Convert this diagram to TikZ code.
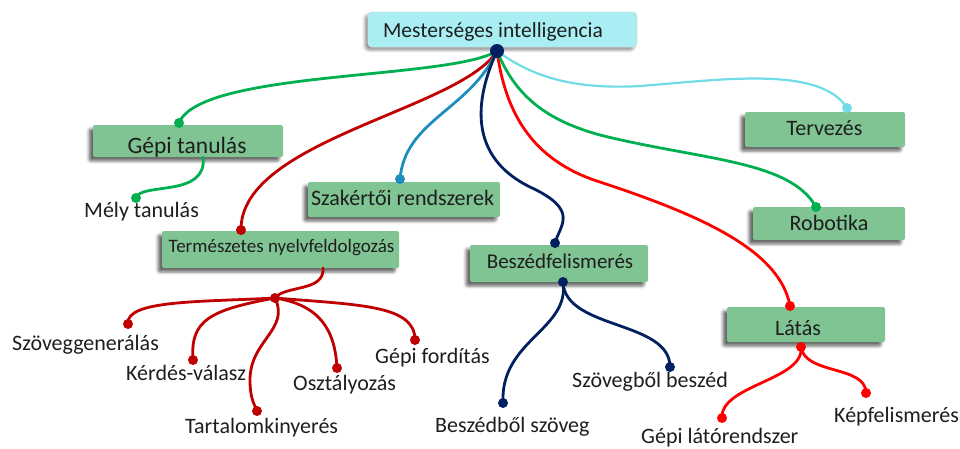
\documentclass[tikz,border=0pt]{standalone}
\usepackage{fontspec}
\setmainfont{Carlito}
\usetikzlibrary{shadows.blur}

\definecolor{boxgreen}{RGB}{127,196,146}
\definecolor{rootcyan}{RGB}{168,238,242}
\definecolor{txt}{RGB}{30,30,30}
\definecolor{lgreen}{RGB}{0,176,80}
\definecolor{nlpred}{RGB}{192,0,0}
\definecolor{visred}{RGB}{255,0,0}
\definecolor{navy}{RGB}{0,32,96}
\definecolor{lblue}{RGB}{31,140,190}
\definecolor{lcyan}{RGB}{112,220,232}

\newcommand\fsz[1]{\fontsize{#1}{#1}\selectfont}

\tikzset{
  topicbox/.style={fill=boxgreen, draw=none, rounded corners=2pt, inner sep=0,
    blur shadow={shadow xshift=-4pt, shadow yshift=-4pt, shadow blur radius=3pt, shadow opacity=60}},
  rootbox/.style={fill=rootcyan, draw=rootcyan!80!black!40, line width=0.8pt, rounded corners=4pt, inner sep=0,
    blur shadow={shadow xshift=-3pt, shadow yshift=-3pt, shadow blur radius=3pt, shadow opacity=45}},
  boxtext/.style={anchor=base, inner sep=0, text=txt, font=\fsz{22}},
  leaftext/.style={anchor=base west, inner sep=0, text=txt, font=\fsz{22}},
  dot/.style={circle, inner sep=0, minimum size=10pt},
  conn/.style={line width=2.8pt, line cap=round},
}

\begin{document}
\begin{tikzpicture}[x=1pt, y=-1pt]
\useasboundingbox (0,0) rectangle (960,448);

% ---- boxes ----
\node[rootbox, minimum width=269pt, minimum height=35pt] (root) at (502.5,29.5) {};
\node[boxtext, font=\fsz{21.5}] (roottext) at (493,37) {Mesterséges intelligencia};

\node[topicbox, minimum width=190pt, minimum height=32pt] (gt) at (188,141) {};
\node[boxtext, font=\fsz{23.5}] (gttext) at (187,153) {Gépi tanulás};

\node[topicbox, minimum width=192pt, minimum height=35pt] (szak) at (404,199.5) {};
\node[boxtext] (szaktext) at (402.5,205) {Szakértői rendszerek};

\node[topicbox, minimum width=237pt, minimum height=37pt] (nlp) at (280.5,249.5) {};
\node[boxtext, font=\fsz{19}] (nlptext) at (281.5,252) {Természetes nyelvfeldolgozás};

\node[topicbox, minimum width=178pt, minimum height=37pt] (besz) at (559,263.5) {};
\node[boxtext, font=\fsz{21}] (besztext) at (560,268) {Beszédfelismerés};

\node[topicbox, minimum width=160pt, minimum height=35pt] (terv) at (825,129.5) {};
\node[boxtext] (tervtext) at (824.5,135) {Tervezés};

\node[topicbox, minimum width=152pt, minimum height=33pt] (robo) at (829,223.5) {};
\node[boxtext] (robotext) at (829,230) {Robotika};

\node[topicbox, minimum width=158pt, minimum height=35pt] (latas) at (806,324.5) {};
\node[boxtext] (latastext) at (798,335) {Látás};

% ---- leaf labels ----
\node[leaftext] (mely) at (84,217) {Mély tanulás};
\node[leaftext] (gen) at (12,350) {Szöveggenerálás};
\node[leaftext] (qa) at (126,380) {Kérdés-válasz};
\node[leaftext] (ext) at (185,433) {Tartalomkinyerés};
\node[leaftext] (cls) at (293,390) {Osztályozás};
\node[leaftext] (mt) at (375,363) {Gépi fordítás};
\node[leaftext] (s2t) at (435,432) {Beszédből szöveg};
\node[leaftext] (t2s) at (572,387) {Szövegből beszéd};
\node[leaftext] (gl) at (641,443) {Gépi látórendszer};
\node[leaftext] (kf) at (834,422) {Képfelismerés};

% ---- connector end points ----
\node[dot, minimum size=14pt] (hub) at (497,51) {};
\node[dot] (dgt) at (179,123) {};
\node[dot] (dmely) at (136,198) {};
\node[dot] (dszak) at (400,179) {};
\node[dot] (dnlp) at (241,230) {};
\node[dot] (dbesz) at (555,243) {};
\node[dot] (dbesz2) at (563,282) {};
\node[dot] (dterv) at (847,108) {};
\node[dot] (drobo) at (816,207) {};
\node[dot] (dlatas) at (790,306) {};
\node[dot] (dlatas2) at (801,347) {};
\node[dot] (dnlphub) at (275,298) {};
\node[dot] (dgen) at (128,324) {};
\node[dot] (dqa) at (193,360) {};
\node[dot] (dext) at (257,411) {};
\node[dot] (dcls) at (337,368) {};
\node[dot] (dmt) at (415,340) {};
\node[dot] (ds2t) at (503,403) {};
\node[dot] (dt2s) at (670,367) {};
\node[dot] (dgl) at (722,418) {};
\node[dot] (dkf) at (866,393) {};
\coordinate (gtout) at (203,157);
\coordinate (nlpout) at (323,268);

% ---- connectors from the central topic ----
\draw[conn, lgreen] (hub.center) .. controls (450,80) and (200,70) .. (dgt.center);
\draw[conn, nlpred] (hub.center) .. controls (460,110) and (240,140) .. (dnlp.center);
\draw[conn, lblue] (hub.center) .. controls (470,110) and (405,120) .. (dszak.center);
\draw[conn, navy] (hub.center) .. controls (470,110) and (475,160) .. (530,187)
                  .. controls (580,210) and (560,225) .. (dbesz.center);
\draw[conn, visred] (hub.center) .. controls (505,110) and (530,160) .. (600,182)
                  .. controls (700,215) and (780,250) .. (dlatas.center);
\draw[conn, lgreen] (hub.center) .. controls (515,95) and (545,120) .. (600,135)
                  .. controls (700,160) and (790,160) .. (drobo.center);
\draw[conn, lcyan, line width=2.2pt] (hub.center) .. controls (530,75) and (570,90) .. (640,86)
                  .. controls (720,80) and (820,65) .. (dterv.center);

% ---- sub-topic connectors ----
\draw[conn, lgreen] (gtout) .. controls (208,198) and (140,182) .. (dmely.center);

\draw[conn, nlpred] (nlpout) .. controls (325,292) and (285,285) .. (dnlphub.center);
\draw[conn, nlpred] (dnlphub.center) .. controls (200,302) and (125,300) .. (dgen.center);
\draw[conn, nlpred] (dnlphub.center) .. controls (210,310) and (190,320) .. (dqa.center);
\draw[conn, nlpred] (dnlphub.center) .. controls (290,330) and (250,340) .. (250,380)
                  .. controls (250,400) and (255,405) .. (dext.center);
\draw[conn, nlpred] (dnlphub.center) .. controls (320,305) and (335,330) .. (dcls.center);
\draw[conn, nlpred] (dnlphub.center) .. controls (360,305) and (415,305) .. (dmt.center);

\draw[conn, navy] (dbesz2.center) .. controls (570,330) and (500,340) .. (ds2t.center);
\draw[conn, navy] (dbesz2.center) .. controls (565,330) and (670,320) .. (dt2s.center);

\draw[conn, visred] (dlatas2.center) .. controls (805,380) and (720,385) .. (dgl.center);
\draw[conn, visred] (dlatas2.center) .. controls (805,375) and (866,365) .. (dkf.center);

% ---- dots on top of the connectors ----
\foreach \d/\c/\s in {hub/navy/14, dgt/lgreen/10, dmely/lgreen/10, dszak/lblue/10, dnlp/nlpred/10,
  dbesz/navy/10, dbesz2/navy/10, dterv/lcyan/10, drobo/lgreen/10, dlatas/visred/10,
  dlatas2/visred/10, dnlphub/nlpred/10, dgen/nlpred/10, dqa/nlpred/10, dext/nlpred/10,
  dcls/nlpred/10, dmt/nlpred/10, ds2t/navy/10, dt2s/navy/10, dgl/visred/10, dkf/visred/10}
  \fill[\c] (\d.center) circle (\s/2);
\end{tikzpicture}
\end{document}
